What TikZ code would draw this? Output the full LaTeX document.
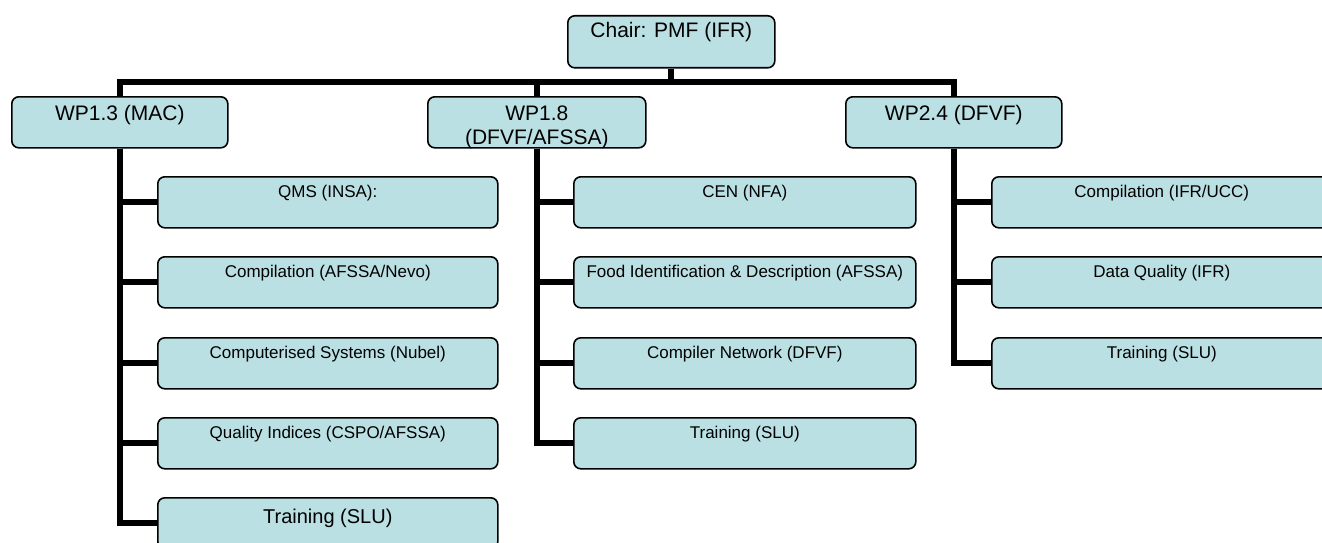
\documentclass[tikz,border=0pt]{standalone}
\usepackage{fontspec}
\setmainfont{Liberation Sans}
\usetikzlibrary{calc,backgrounds}
\definecolor{boxfill}{RGB}{187,224,227}
\tikzset{
  box/.style={draw=black, line width=1.6pt, fill=boxfill, rounded corners=7pt,
    inner sep=0pt, anchor=north west, minimum height=51pt},
  topbox/.style={box, font=\fontsize{21}{24}\selectfont, minimum width=216pt,
    text height=24pt, text depth=27pt},
  subbox/.style={box, font=\fontsize{17}{20}\selectfont, minimum width=340pt,
    text height=21pt, text depth=30pt},
  conn/.style={line width=6pt, line join=miter}
}
\begin{document}
\begin{tikzpicture}[x=1pt,y=-1pt]
\useasboundingbox (0,0) rectangle (1322,543);
\clip (0,0) rectangle (1322,543);

% top level
\node[topbox, minimum width=207pt, text height=22pt, text depth=30pt, minimum height=52pt] (chair) at (567,15) {Chair: PMF (IFR)};
\node[topbox] (wp13) at (11,96) {WP1.3 (MAC)};
\node[topbox, minimum width=218pt, align=center, text height=48pt, text depth=3pt] (wp18) at (427,96) {WP1.8\\(DFVF/AFSSA)};
\node[topbox] (wp24) at (845,96) {WP2.4 (DFVF)};

% WP1.3 column
\node[subbox] (a1) at (157,176) {QMS (INSA):};
\node[subbox] (a2) at (157,256) {Compilation (AFSSA/Nevo)};
\node[subbox] (a3) at (157,337) {Computerised Systems (Nubel)};
\node[subbox] (a4) at (157,417) {Quality Indices (CSPO/AFSSA)};
\node[subbox, font=\fontsize{20}{23}\selectfont, text height=26pt, text depth=25pt] (a5) at (157,497) {Training (SLU)};

% WP1.8 column
\node[subbox, minimum width=342pt] (b1) at (573,176) {CEN (NFA)};
\node[subbox, minimum width=342pt] (b2) at (573,256) {Food Identification \& Description (AFSSA)};
\node[subbox, minimum width=342pt] (b3) at (573,337) {Compiler Network (DFVF)};
\node[subbox, minimum width=342pt] (b4) at (573,417) {Training (SLU)};

% WP2.4 column
\node[subbox] (c1) at (991,176) {Compilation (IFR/UCC)};
\node[subbox] (c2) at (991,256) {Data Quality (IFR)};
\node[subbox] (c3) at (991,337) {Training (SLU)};

\begin{scope}[on background layer]
  \coordinate (bus) at (0,82);
  \draw[conn] (chair.south) -- (chair.south |- bus);
  \draw[conn] (wp13.north) -- (wp13.north |- bus) -- (wp24.north |- bus) -- (wp24.north);
  \draw[conn] (wp18.north) -- (wp18.north |- bus);
  \foreach \n in {a1,a2,a3,a4,a5} \draw[conn] (wp13.south) |- (\n.west);
  \foreach \n in {b1,b2,b3,b4} \draw[conn] (wp18.south) |- (\n.west);
  \foreach \n in {c1,c2,c3} \draw[conn] (wp24.south) |- (\n.west);
\end{scope}
\end{tikzpicture}
\end{document}
